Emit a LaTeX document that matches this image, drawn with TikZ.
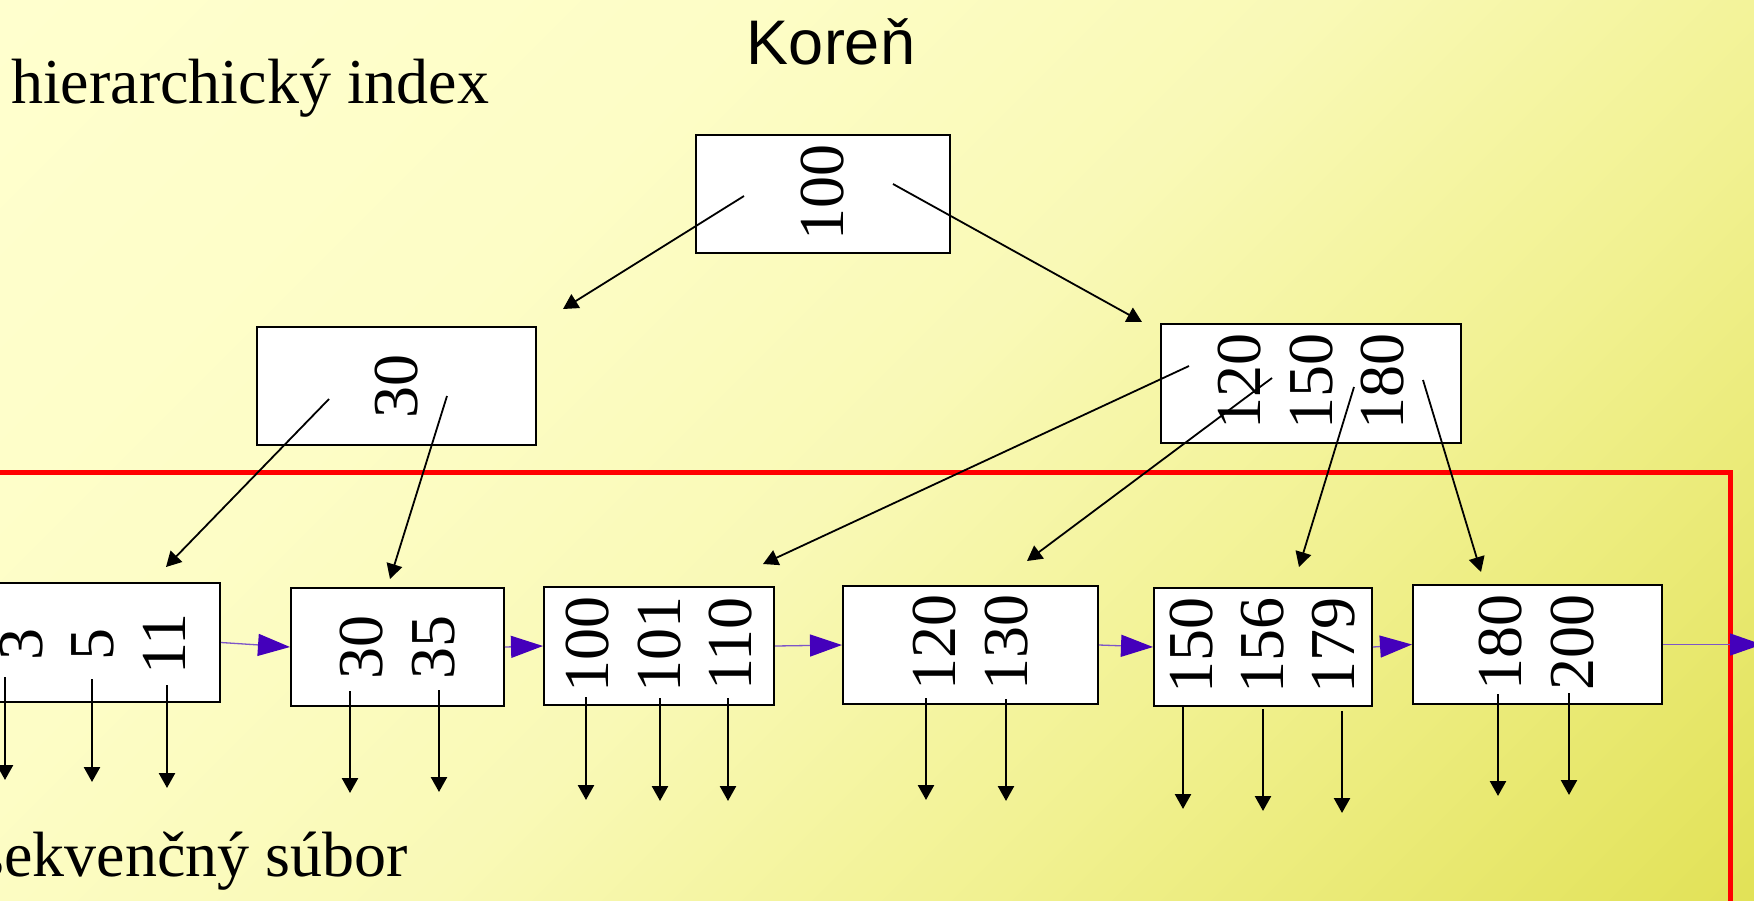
\documentclass[tikz,border=0pt]{standalone}
\usepackage{fontspec}
\setmainfont{Liberation Serif}
\newfontfamily\arialfont{Liberation Sans}
\usetikzlibrary{arrows.meta}
\definecolor{bgA}{RGB}{214,214,66}
\definecolor{bgB}{RGB}{226,226,88}
\definecolor{bgC}{RGB}{241,241,145}
\definecolor{bgD}{RGB}{249,249,182}
\definecolor{bgE}{RGB}{253,253,198}
\definecolor{bgF}{RGB}{255,255,206}
\definecolor{linkline}{RGB}{125,85,200}
\definecolor{linkhead}{RGB}{68,0,187}
\definecolor{seqred}{RGB}{255,0,0}
% diagonal backdrop, light at the upper left, deeper yellow at the lower right
\pgfdeclareverticalshading{backdrop}{100bp}{color(0bp)=(bgA); color(15bp)=(bgB);
  color(35bp)=(bgC); color(50bp)=(bgD); color(65bp)=(bgE); color(85bp)=(bgF); color(100bp)=(bgF)}
\begin{document}
\begin{tikzpicture}[x=1pt,y=-1pt,
  box/.style={draw=black,line width=2pt,fill=white,inner sep=0pt,rectangle},
  num/.style={rotate=90,inner sep=0pt,font=\rmfamily\fontsize{64}{64}\selectfont},
  lbl/.style={inner sep=0pt,font=\rmfamily\fontsize{64}{64}\selectfont},
  tree/.style={line width=1.8pt,-{Triangle[length=15pt,width=16pt]}},
  rec/.style={line width=2.5pt,-{Triangle[length=15pt,width=16pt]}},
  link/.style={draw=linkline,line width=1.3pt,-{Triangle[length=32pt,width=22pt,color=linkhead]}},
  seq/.style={draw=seqred,line width=5pt}]
\useasboundingbox (0,0) rectangle (1754,900);
\begin{scope}
\clip (0,0) rectangle (1754,900);
% background
\shade[shading=backdrop, shading angle=45] (0,0) rectangle (1754,900);

% titles
\node[anchor=base,inner sep=0pt,font=\arialfont\fontsize{63}{63}\selectfont] (koren) at (831,64) {Koreň};
\node[lbl,anchor=base west] (hier) at (11,103) {hierarchický index};
\node[lbl,anchor=base east] (sekv) at (408,876) {sekvenčný súbor};

% border of the sequential part
\draw[seq] (-10,472) -- (1730,472) -- (1730,910);

% index nodes
\node[box,minimum width=254pt,minimum height=118pt] (root) at (823,194) {};
\node[box,minimum width=279pt,minimum height=118pt] (n30) at (396.5,386) {};
\node[box,minimum width=300pt,minimum height=119pt] (nR) at (1311,383.5) {};
\node[num] (k100) at (823,192) {100};
\node[num] (k30) at (397,386) {30};
\node[num] (k120) at (1240,381) {120};
\node[num] (k150) at (1312,381) {150};
\node[num] (k180) at (1383,381) {180};

% leaf blocks
\node[box,minimum width=250pt,minimum height=119pt] (lA) at (95,642.5) {};
\node[box,minimum width=213pt,minimum height=118pt] (lB) at (397.5,647) {};
\node[box,minimum width=230pt,minimum height=118pt] (lC) at (659,646) {};
\node[box,minimum width=255pt,minimum height=118pt] (lD) at (970.5,645) {};
\node[box,minimum width=218pt,minimum height=118pt] (lE) at (1263,647) {};
\node[box,minimum width=249pt,minimum height=119pt] (lF) at (1537.5,644.5) {};

\node[num] (a1) at (22,644) {3};
\node[num] (a2) at (93,644) {5};
\node[num] (a3) at (164,644) {11};
\node[num] (b1) at (362,647) {30};
\node[num] (b2) at (434,647) {35};
\node[num] (c1) at (588,644) {100};
\node[num] (c2) at (660,644) {101};
\node[num] (c3) at (731,644) {110};
\node[num] (d1) at (935,642) {120};
\node[num] (d2) at (1007,642) {130};
\node[num] (e1) at (1192,645) {150};
\node[num] (e2) at (1263,645) {156};
\node[num] (e3) at (1334,645) {179};
\node[num] (f1) at (1501,642) {180};
\node[num] (f2) at (1573,642) {200};

% index pointers
\draw[tree] ([shift={(-79,2)}]root.center) -- ([shift={(166.5,-17)}]n30.north);
\draw[tree] ([shift={(70,-10)}]root.center) -- ([shift={(-169,-1)}]nR.north);
\draw[tree] ([shift={(-67.5,13)}]n30.center) -- ([shift={(71,-15)}]lA.north);
\draw[tree] ([shift={(50.5,10)}]n30.center) -- ([shift={(-7.5,-8)}]lB.north);
\draw[tree] ([shift={(-122,-17.5)}]nR.center) -- ([shift={(104,-22)}]lC.north);
\draw[tree] ([shift={(-39,-5.5)}]nR.center) -- ([shift={(56.5,-24)}]lD.north);
\draw[tree] ([shift={(43,3.5)}]nR.center) -- ([shift={(36,-20)}]lE.north);
\draw[tree] ([shift={(112,-3.5)}]nR.center) -- ([shift={(-56.5,-12)}]lF.north);

% links between leaf blocks
\draw[link] (lA.east) -- (lB.west);
\draw[link] (lB.east) -- (lC.west);
\draw[link] (lC.east) -- (lD.west);
\draw[link] (lD.east) -- (lE.west);
\draw[link] (lE.east) -- (lF.west);
\coordinate (out) at (1762,644.5);
\draw[link] (lF.east) -- (out);

% record pointers
\draw[rec] ([shift={(-90,34.5)}]lA.center) -- ++(0,103);
\draw[rec] ([shift={(-3,36.5)}]lA.center) -- ++(0,103);
\draw[rec] ([shift={(72,42.5)}]lA.center) -- ++(0,103);
\draw[rec] ([shift={(-47.5,44)}]lB.center) -- ++(0,102);
\draw[rec] ([shift={(41.5,43)}]lB.center) -- ++(0,102);
\draw[rec] ([shift={(-73,51)}]lC.center) -- ++(0,103);
\draw[rec] ([shift={(1,52)}]lC.center) -- ++(0,103);
\draw[rec] ([shift={(69,52)}]lC.center) -- ++(0,103);
\draw[rec] ([shift={(-44.5,53)}]lD.center) -- ++(0,102);
\draw[rec] ([shift={(35.5,54)}]lD.center) -- ++(0,102);
\draw[rec] ([shift={(-80,60)}]lE.center) -- ++(0,102);
\draw[rec] ([shift={(0,62)}]lE.center) -- ++(0,102);
\draw[rec] ([shift={(79,64)}]lE.center) -- ++(0,102);
\draw[rec] ([shift={(-39.5,49.5)}]lF.center) -- ++(0,102);
\draw[rec] ([shift={(31.5,48.5)}]lF.center) -- ++(0,102);
\end{scope}
\end{tikzpicture}
\end{document}
